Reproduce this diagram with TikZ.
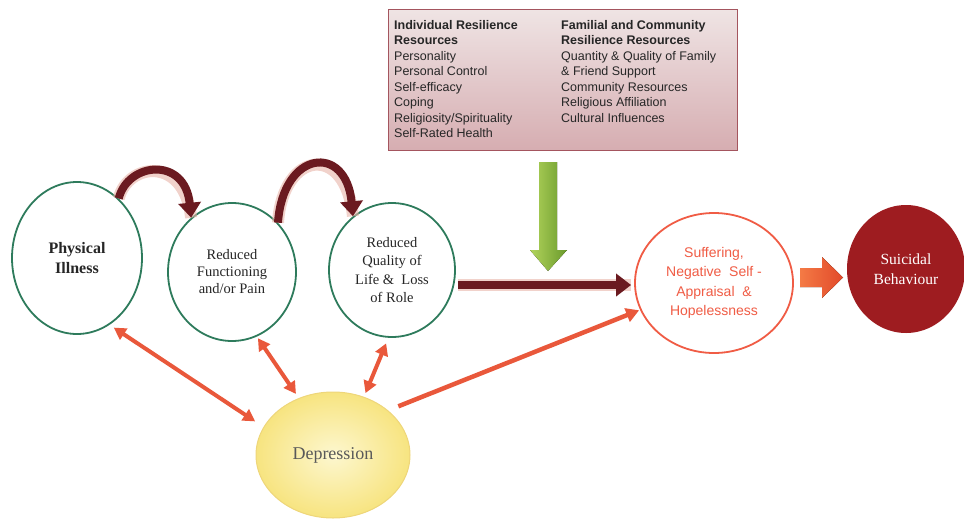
\documentclass[tikz,border=0pt]{standalone}
\usepackage{fontspec}
\setmainfont{Liberation Serif}
\newfontfamily\arialf{Liberation Sans}
\usetikzlibrary{shapes.geometric,arrows.meta,calc}
\definecolor{cgreen}{HTML}{2E7B5C}
\definecolor{cdark}{HTML}{6B1A20}
\definecolor{chalo}{HTML}{E8B4A8}
\definecolor{corange}{HTML}{E9583B}
\definecolor{csuf}{HTML}{F05C45}
\definecolor{csuic}{HTML}{9E1C20}
\definecolor{boxtop}{HTML}{EFE4E4}
\definecolor{boxbot}{HTML}{D6ADB1}
\definecolor{boxedge}{HTML}{A4555E}
\definecolor{depin}{HTML}{FDF7CF}
\definecolor{depout}{HTML}{F7E480}
\definecolor{depedge}{HTML}{EED67A}
\definecolor{gleft}{HTML}{B2D45C}
\definecolor{gright}{HTML}{6A9A2C}
\definecolor{oleft}{HTML}{F47A45}
\definecolor{oright}{HTML}{E24A2A}
\begin{document}
\begin{tikzpicture}[x=1pt,y=-1pt,
  circ/.style={ellipse, draw=cgreen, line width=1.8pt, fill=white, inner sep=0pt,
    align=center, text=black!85},
  darrow/.style={draw=cdark, line width=8pt, -{Triangle[width=22pt,length=15pt]},
    preaction={draw=chalo, line width=12pt, -, opacity=0.6}},
  oarrow/.style={draw=corange, line width=4pt, {Triangle[width=13pt,length=12pt]}-{Triangle[width=13pt,length=12pt]}},
  oarrowone/.style={draw=corange, line width=4.5pt, -{Triangle[width=14pt,length=13pt]}},
  coltext/.style={anchor=north west, align=left, inner sep=0pt,
    font=\arialf\fontsize{12.5}{15.5}\selectfont, text=black!85}
]
\useasboundingbox (0,0) rectangle (964,520);

% resilience box
\node[draw=boxedge, line width=1pt, top color=boxtop, bottom color=boxbot,
  minimum width=349pt, minimum height=141pt, anchor=north west, inner sep=0pt] (box) at (388,9) {};
\node[coltext] (col1) at (394,20) {\textbf{Individual Resilience}\\\textbf{Resources}\\Personality\\Personal Control\\Self-efficacy\\Coping\\Religiosity/Spirituality\\Self-Rated Health};
\node[coltext] (col2) at (561,20) {\textbf{Familial and Community}\\\textbf{Resilience Resources}\\Quantity \& Quality of Family\\\& Friend Support\\Community  Resources\\Religious  Affiliation\\Cultural Influences};

% circles
\node[circ, minimum width=130pt, minimum height=152pt,
  font=\bfseries\fontsize{16}{20}\selectfont] (illness) at (77,258) {Physical\\Illness};
\node[circ, minimum width=128pt, minimum height=138pt,
  font=\fontsize{14.5}{17}\selectfont] (functioning) at (232,272) {Reduced\\Functioning\\and/or Pain};
\node[circ, minimum width=126pt, minimum height=134pt,
  font=\fontsize{14.5}{18.5}\selectfont] (quality) at (392,270) {Reduced\\Quality of\\Life \&\ \ Loss\\of Role};
\node[ellipse, draw=csuf, line width=1.8pt, fill=white, inner sep=0pt, align=center,
  text=csuf, minimum width=158pt, minimum height=140pt,
  font=\arialf\fontsize{14}{19.3}\selectfont] (suffering) at (714,283)
  {Suffering,\\Negative\ \ Self -\\Appraisal\ \ \&\\Hopelessness};
\node[ellipse, fill=csuic, inner sep=0pt, align=center, text=white,
  minimum width=118pt, minimum height=128pt,
  font=\fontsize{15.5}{20}\selectfont] (suicidal) at (906,269) {Suicidal\\Behaviour};
\node[ellipse, draw=depedge, line width=1pt, inner color=depin, outer color=depout,
  inner sep=0pt, minimum width=154pt, minimum height=126pt, text=black!65,
  font=\fontsize{18}{22}\selectfont] (depression) at (333,455) {Depression};

% curved dark arrows
\draw[darrow] (illness.55) .. controls (128,162) and (185,156) .. (functioning.127);
\draw[darrow] (functioning.47) .. controls (283,150) and (346,143) .. (quality.126);

% main dark horizontal arrow
\draw[darrow, shorten >=3pt, shorten <=2pt] ([yshift=-15pt]quality.east) -- ([yshift=-2pt]suffering.west);

% green arrow from resilience box
\fill[left color=gleft, right color=gright]
  (539,162) -- (557,162) -- (557,250) -- (567,250) -- (548,271) -- (530,250) -- (539,250) -- cycle;

% orange block arrow
\fill[left color=oleft, right color=oright]
  (800,268) -- (822,268) -- (822,257) -- (843,277.5) -- (822,298) -- (822,287) -- (800,287) -- cycle;

% orange arrows with depression
\draw[oarrow, shorten <=5pt, shorten >=10pt] (illness.-64) -- (depression.158);
\draw[oarrow, shorten <=2pt, shorten >=5pt] (functioning.-69) -- (depression.121);
\draw[oarrow, shorten <=6pt, shorten >=4pt] (quality.-93) -- (depression.62);
\draw[oarrowone, shorten <=11pt, shorten >=1pt] (depression.39) -- (suffering.200);
\end{tikzpicture}
\end{document}
